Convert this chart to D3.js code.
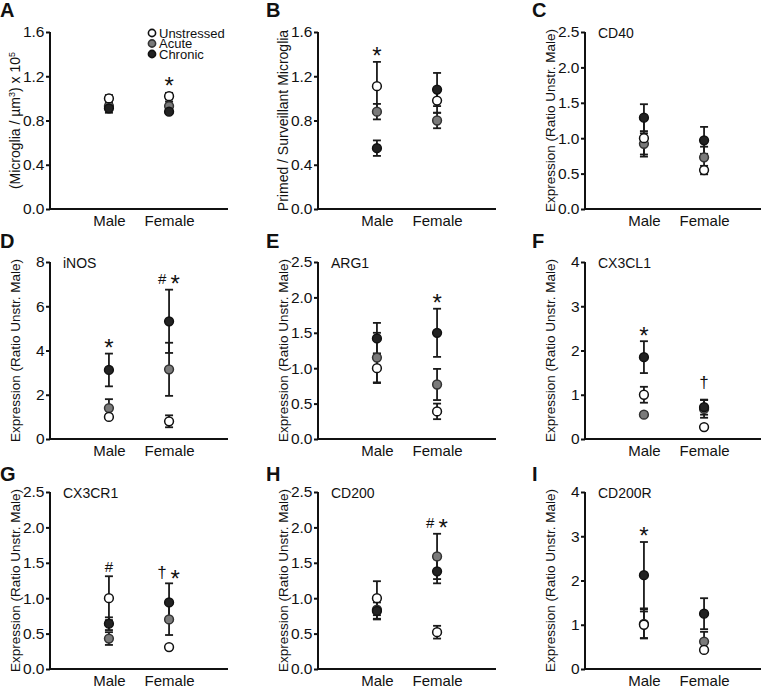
<!DOCTYPE html>
<html><head><meta charset="utf-8">
<script src="https://cdn.jsdelivr.net/npm/d3@7/dist/d3.min.js"></script>
<style>body{margin:0;background:#fff}svg{display:block}text{font-family:"Liberation Sans",Arial,sans-serif;fill:#111}</style>
</head><body>
<script>
// ---- data ----
const groups = ["Male", "Female"];
const conditions = ["Unstressed", "Acute", "Chronic"];

// [group][condition] : Unstressed, Acute, Chronic
const meanA = [[1.00, 0.93, 0.91], [1.02, 0.93, 0.88]];
const semA  = [[0.03, 0.03, 0.04], [0.03, 0.04, 0.02]];
const meanB = [[1.11, 0.88, 0.55], [0.98, 0.80, 1.08]];
const semB  = [[0.22, 0.07, 0.07], [0.11, 0.07, 0.15]];
const meanC = [[1.00, 0.92, 1.29], [0.55, 0.73, 0.97]];
const semC  = [[0.26, 0.15, 0.19], [0.06, 0.15, 0.19]];
const meanD = [[1.00, 1.40, 3.12], [0.80, 3.15, 5.32]];
const semD  = [[0.10, 0.40, 0.74], [0.27, 1.20, 1.43]];
const meanE = [[1.00, 1.15, 1.42], [0.39, 0.77, 1.50]];
const semE  = [[0.21, 0.35, 0.22], [0.11, 0.22, 0.34]];
const meanF = [[1.00, 0.55, 1.85], [0.27, 0.68, 0.72]];
const semF  = [[0.18, 0.05, 0.36], [0.04, 0.20, 0.17]];
const meanG = [[1.00, 0.43, 0.64], [0.31, 0.70, 0.94]];
const semG  = [[0.31, 0.09, 0.09], [0.03, 0.22, 0.27]];
const meanH = [[1.00, 0.84, 0.82], [0.52, 1.59, 1.38]];
const semH  = [[0.24, 0.13, 0.12], [0.09, 0.32, 0.17]];
const meanI = [[1.00, 1.02, 2.12], [0.43, 0.62, 1.25]];
const semI  = [[0.30, 0.33, 0.75], [0.05, 0.22, 0.35]];

// tick labels
const ticks16 = [0, 0.4, 0.8, 1.2, 1.6];
const ticks25 = [0, 0.5, 1.0, 1.5, 2.0, 2.5];
const ticks8  = [0, 2, 4, 6, 8];
const ticks4  = [0, 1, 2, 3, 4];

// significance marks: group, symbols, value
const marksA = [["Female", ["*"], 1.166]];
const marksB = [["Male", ["*"], 1.437]];
const marksC = [];
const marksD = [["Male", ["*"], 4.40], ["Female", ["#", "*"], 7.26]];
const marksE = [["Female", ["*"], 2.01]];
const marksF = [["Male", ["*"], 2.46], ["Female", ["†"], 1.26]];
const marksG = [["Male", ["#"], 1.445], ["Female", ["†", "*"], 1.35]];
const marksH = [["Female", ["#", "*"], 2.07]];
const marksI = [["Male", ["*"], 3.13]];

const genes = ["", "", "CD40", "iNOS", "ARG1", "CX3CL1", "CX3CR1", "CD200", "CD200R"];
const letters = ["A", "B", "C", "D", "E", "F", "G", "H", "I"];

// ---- layout ----
const W = 761, H = 689;
const colX = [50, 318, 585];
const rows = [[209, 32], [439, 262], [669, 492]];
const letterX = [0, 266, 532];
const letterY = [17, 248, 481];
const fillC = {Unstressed: "#ffffff", Acute: "#7a7a7a", Chronic: "#222222"};
const strokeC = {Unstressed: "#111", Acute: "#333", Chronic: "#111"};

const panels = [
  {m: meanA, s: semA, t: ticks16, f: d3.format(".1f"), k: marksA},
  {m: meanB, s: semB, t: ticks16, f: d3.format(".1f"), k: marksB, title: "Primed / Surveillant Microglia"},
  {m: meanC, s: semC, t: ticks25, f: d3.format(".1f"), k: marksC},
  {m: meanD, s: semD, t: ticks8, f: d3.format("d"), k: marksD},
  {m: meanE, s: semE, t: ticks25, f: d3.format(".1f"), k: marksE},
  {m: meanF, s: semF, t: ticks4, f: d3.format("d"), k: marksF},
  {m: meanG, s: semG, t: ticks25, f: d3.format(".1f"), k: marksG},
  {m: meanH, s: semH, t: ticks25, f: d3.format(".1f"), k: marksH},
  {m: meanI, s: semI, t: ticks4, f: d3.format("d"), k: marksI}
];

const svg = d3.select("body").append("svg").attr("width", W).attr("height", H);
const FF = '"Liberation Sans",Arial,sans-serif';

panels.forEach((p, idx) => {
  const col = idx % 3, row = Math.floor(idx / 3);
  const ax = colX[col], [y0, yTop] = rows[row];
  const g = svg.append("g");
  const ymax = p.t[p.t.length - 1];
  const y = d3.scaleLinear().domain([0, ymax]).range([y0, yTop]);
  const x = d3.scalePoint().domain(groups).range([ax, ax + 178]).padding(0.98);

  // panel letter
  g.append("text").attr("x", letterX[col]).attr("y", letterY[row])
    .attr("font-size", 20).attr("font-weight", "bold").text(letters[idx]);

  // y axis
  const ya = g.append("g").attr("transform", `translate(${ax},0)`)
    .call(d3.axisLeft(y).tickValues(p.t).tickFormat(p.f).tickSize(4).tickPadding(1.5).tickSizeOuter(0));
  ya.selectAll("path,line").attr("stroke", "#111").attr("stroke-width", 2);
  ya.selectAll("text").attr("font-size", 15.5).attr("fill", "#111").style("font-family", FF);
  ya.select(".domain").attr("d", `M0,${y0 + 1}V${yTop}`);

  // x axis
  const xa = g.append("g").attr("transform", `translate(0,${y0})`)
    .call(d3.axisBottom(x).tickSize(0).tickPadding(6.5).tickSizeOuter(0));
  xa.select(".domain").attr("stroke", "#111").attr("stroke-width", 2)
    .attr("d", `M${ax - 1},0H${ax + 178}`);
  xa.selectAll("text").attr("font-size", 15).attr("fill", "#111").style("font-family", FF);

  // y title
  const tcx = ax - 35, tcy = (y0 + yTop) / 2;
  const tt = g.append("text").attr("transform", `translate(${tcx},${tcy}) rotate(-90)`)
    .attr("text-anchor", "middle").attr("dy", "0.35em");
  if (idx === 0) {
    tt.attr("font-size", 14);
    tt.append("tspan").text("(Microglia / µm");
    tt.append("tspan").attr("font-size", 9).attr("dy", -5).text("3");
    tt.append("tspan").attr("dy", 5).text(") x 10");
    tt.append("tspan").attr("font-size", 9).attr("dy", -5).text("5");
  } else if (idx === 1) {
    tt.attr("font-size", 14).text(p.title);
  } else {
    tt.attr("font-size", 13.5).text("Expression (Ratio Unstr. Male)");
  }

  // gene label
  if (genes[idx]) {
    g.append("text").attr("x", ax + 13).attr("y", yTop + 5.5).attr("font-size", 14).text(genes[idx]);
  }

  // error bars
  const order = [1, 2, 0];
  groups.forEach((grp, gi) => {
    const cx = x(grp);
    order.forEach(ci => {
      const m = p.m[gi][ci], s = p.s[gi][ci];
      const eb = g.append("g").attr("stroke", "#1a1a1a").attr("stroke-width", 1.8);
      eb.append("line").attr("x1", cx).attr("x2", cx).attr("y1", y(m - s)).attr("y2", y(m + s));
      [m - s, m + s].forEach(v => eb.append("line").attr("x1", cx - 4).attr("x2", cx + 4).attr("y1", y(v)).attr("y2", y(v)));
    });
  });
  groups.forEach((grp, gi) => {
    const cx = x(grp);
    order.forEach(ci => {
      const c = conditions[ci];
      g.append("circle").attr("cx", cx).attr("cy", y(p.m[gi][ci])).attr("r", 4.4)
        .attr("fill", fillC[c]).attr("stroke", strokeC[c]).attr("stroke-width", 1.5);
    });
  });

  // significance marks
  p.k.forEach(([grp, syms, v]) => {
    const cx = x(grp), cy = y(v);
    const offs = syms.length === 2 ? [-7, 6] : [0];
    syms.forEach((sym, si) => {
      let fs, dy;
      if (sym === "*") { fs = 24; dy = 14; }
      else if (sym === "#") { fs = 15; dy = 5.2; }
      else { fs = 17; dy = 4.6; }
      g.append("text").attr("x", cx + offs[si]).attr("y", cy + dy).attr("text-anchor", "middle")
        .attr("font-size", fs).text(sym);
    });
  });

  // legend (panel A)
  if (idx === 0) {
    conditions.forEach((c, i) => {
      const ly = 33 + i * 10.5;
      g.append("circle").attr("cx", 152).attr("cy", ly).attr("r", 3.6)
        .attr("fill", fillC[c]).attr("stroke", strokeC[c]).attr("stroke-width", 1.6);
      g.append("text").attr("x", 159).attr("y", ly).attr("dy", "0.36em").attr("font-size", 13).text(c);
    });
  }
});
</script>
</body></html>
